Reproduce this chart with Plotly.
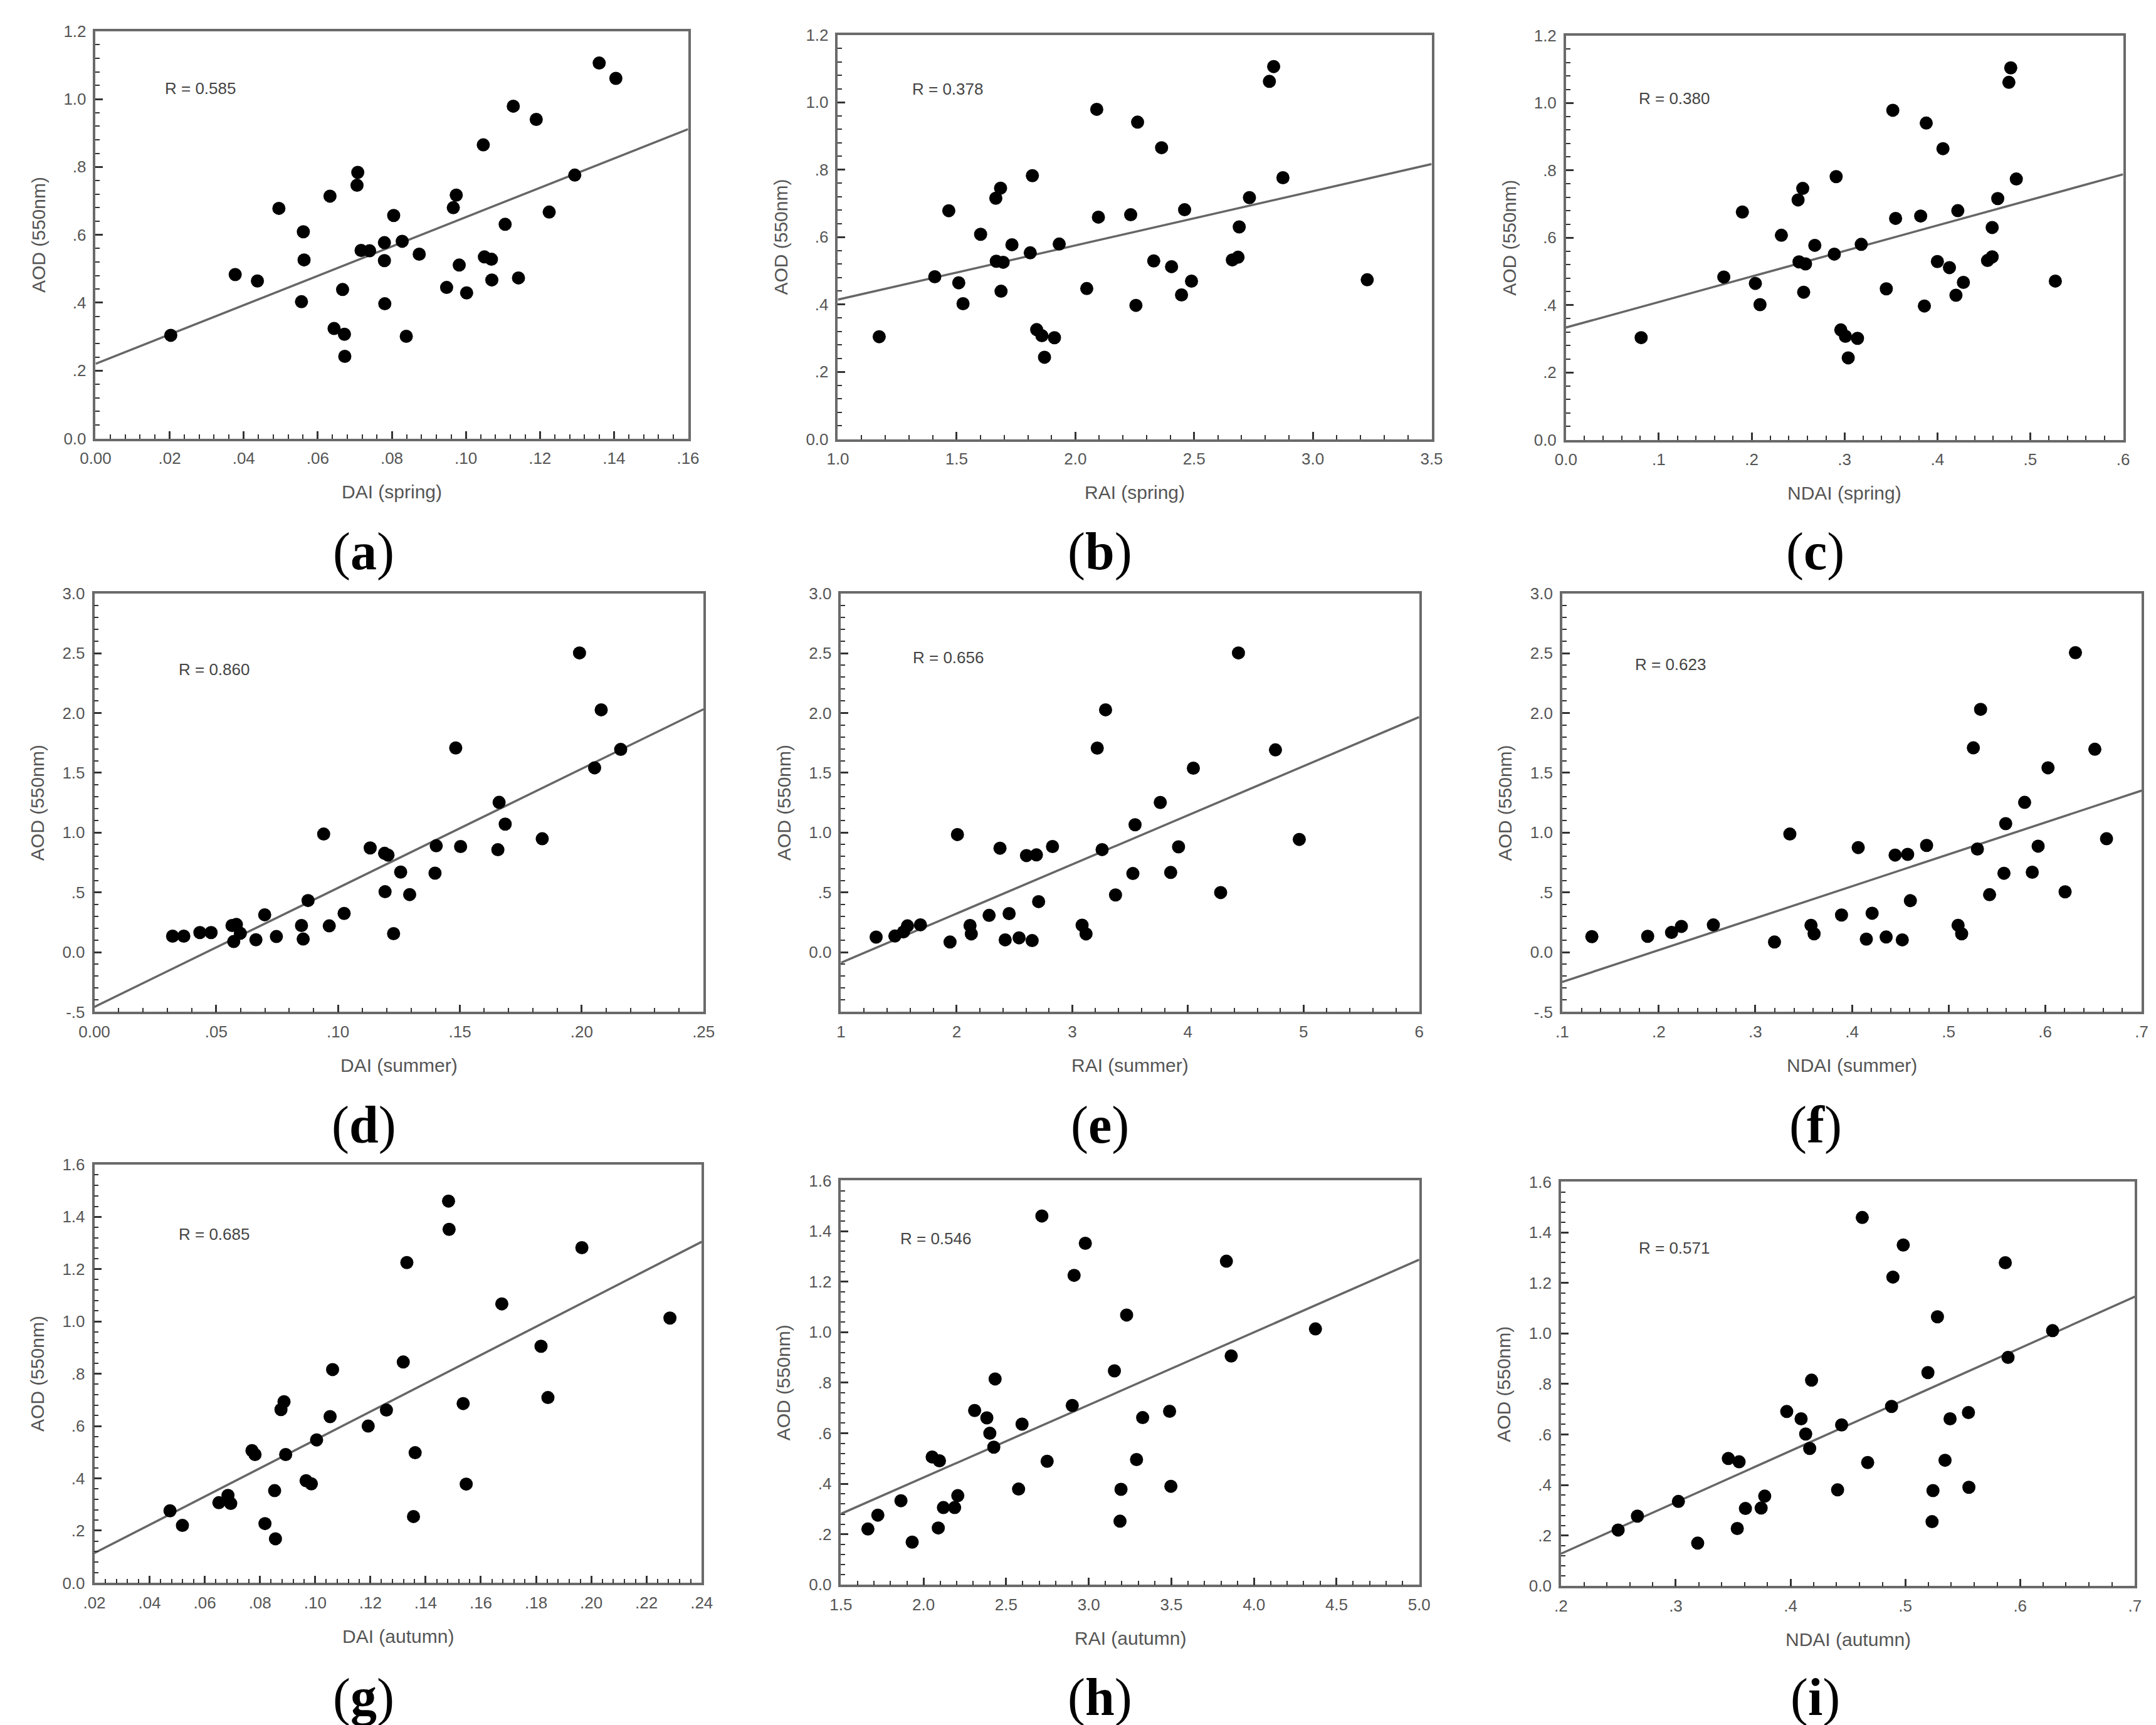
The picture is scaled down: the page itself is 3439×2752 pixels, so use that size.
import plotly.graph_objects as go

W, H = 3439, 2752

# ---------------- data ----------------
# spring
dai_spring = [0.0203, 0.0377, 0.0437, 0.0495, 0.0556, 0.0561, 0.0563, 0.0633, 0.0644, 0.0667,
              0.0672, 0.0673, 0.0706, 0.0708, 0.0717, 0.0740, 0.0780, 0.0780, 0.0781, 0.0805,
              0.0828, 0.0839, 0.0874, 0.0948, 0.0966, 0.0974, 0.0982, 0.1002, 0.1047, 0.1050,
              0.1069, 0.1070, 0.1106, 0.1128, 0.1142, 0.1190, 0.1225, 0.1294, 0.1360, 0.1405]
aod_dai_spring = [0.304, 0.483, 0.464, 0.678, 0.403, 0.609, 0.526, 0.714, 0.324, 0.439,
                  0.307, 0.242, 0.746, 0.784, 0.554, 0.553, 0.577, 0.524, 0.397, 0.657,
                  0.581, 0.301, 0.543, 0.445, 0.680, 0.717, 0.511, 0.429, 0.865, 0.535,
                  0.528, 0.467, 0.631, 0.979, 0.473, 0.940, 0.667, 0.776, 1.106, 1.061]

rai_spring = [1.174, 1.408, 1.467, 1.509, 1.527, 1.601, 1.665, 1.667, 1.685, 1.687,
              1.696, 1.733, 1.810, 1.819, 1.837, 1.859, 1.870, 1.912, 1.932, 2.048,
              2.090, 2.097, 2.233, 2.255, 2.262, 2.330, 2.363, 2.405, 2.447, 2.460,
              2.489, 2.661, 2.685, 2.690, 2.733, 2.817, 2.835, 2.874, 3.229]
aod_rai_spring = [0.304, 0.482, 0.678, 0.464, 0.402, 0.608, 0.715, 0.528, 0.745, 0.439,
                  0.525, 0.577, 0.553, 0.782, 0.325, 0.307, 0.243, 0.301, 0.579, 0.447,
                  0.979, 0.659, 0.666, 0.397, 0.941, 0.529, 0.865, 0.512, 0.428, 0.681,
                  0.469, 0.532, 0.540, 0.630, 0.717, 1.062, 1.106, 0.776, 0.473]

ndai_spring = [0.081, 0.170, 0.190, 0.204, 0.209, 0.232, 0.250, 0.251, 0.255, 0.256,
               0.258, 0.268, 0.289, 0.291, 0.296, 0.301, 0.304, 0.314, 0.318, 0.345,
               0.352, 0.355, 0.382, 0.386, 0.388, 0.400, 0.406, 0.413, 0.420, 0.422,
               0.428, 0.454, 0.459, 0.459, 0.465, 0.477, 0.479, 0.485, 0.527]
aod_ndai_spring = [0.303, 0.483, 0.676, 0.464, 0.401, 0.607, 0.712, 0.528, 0.746, 0.438,
                   0.522, 0.577, 0.551, 0.781, 0.326, 0.307, 0.243, 0.301, 0.580, 0.448,
                   0.978, 0.657, 0.664, 0.397, 0.940, 0.529, 0.864, 0.511, 0.429, 0.680,
                   0.467, 0.532, 0.543, 0.630, 0.716, 1.061, 1.104, 0.774, 0.471]

# summer
dai_summer = [0.0321, 0.0367, 0.0433, 0.0479, 0.0565, 0.0583, 0.0572, 0.0599, 0.0663, 0.0699,
              0.0747, 0.0850, 0.0857, 0.0877, 0.0941, 0.0964, 0.1025, 0.1132, 0.1191, 0.1205,
              0.1193, 0.1228, 0.1257, 0.1294, 0.1398, 0.1403, 0.1483, 0.1503, 0.1656, 0.1661,
              0.1686, 0.1838, 0.1991, 0.2053, 0.2080, 0.2160]
aod_dai_summer = [0.134, 0.134, 0.164, 0.164, 0.223, 0.232, 0.089, 0.158, 0.104, 0.313,
                  0.131, 0.223, 0.110, 0.432, 0.988, 0.220, 0.324, 0.872, 0.827, 0.812,
                  0.506, 0.155, 0.670, 0.482, 0.661, 0.890, 1.708, 0.884, 0.857, 1.253,
                  1.071, 0.949, 2.503, 1.542, 2.027, 1.696]

rai_summer = [1.304, 1.466, 1.541, 1.575, 1.687, 1.943, 2.007, 2.116, 2.127, 2.281,
              2.375, 2.420, 2.454, 2.540, 2.604, 2.653, 2.690, 2.709, 2.829, 3.085,
              3.119, 3.216, 3.258, 3.288, 3.374, 3.524, 3.543, 3.761, 3.851, 3.919,
              4.047, 4.283, 4.437, 4.757, 4.963]
aod_rai_summer = [0.126, 0.135, 0.170, 0.220, 0.229, 0.085, 0.984, 0.223, 0.153, 0.308,
                  0.870, 0.103, 0.323, 0.120, 0.808, 0.097, 0.814, 0.423, 0.884, 0.226,
                  0.153, 1.707, 0.858, 2.027, 0.479, 0.658, 1.066, 1.252, 0.667, 0.881,
                  1.539, 0.499, 2.503, 1.692, 0.943]

ndai_summer = [0.1307, 0.1885, 0.2132, 0.2234, 0.2565, 0.3198, 0.3357, 0.3576, 0.3608, 0.3892,
               0.4065, 0.4149, 0.4209, 0.4354, 0.4447, 0.4521, 0.4577, 0.4605, 0.4773, 0.5099,
               0.5136, 0.5257, 0.5299, 0.5332, 0.5425, 0.5574, 0.5592, 0.5788, 0.5867, 0.5928,
               0.6030, 0.6207, 0.6314, 0.6515, 0.6636]
aod_ndai_summer = [0.130, 0.133, 0.165, 0.216, 0.228, 0.085, 0.988, 0.225, 0.154, 0.311,
                   0.875, 0.109, 0.326, 0.127, 0.812, 0.103, 0.818, 0.431, 0.893, 0.225,
                   0.154, 1.709, 0.863, 2.031, 0.481, 0.660, 1.075, 1.253, 0.669, 0.887,
                   1.542, 0.505, 2.505, 1.697, 0.949]

# autumn
dai_autumn = [0.0474, 0.0519, 0.0651, 0.0684, 0.0694, 0.0771, 0.0782, 0.0818, 0.0853, 0.0856,
              0.0876, 0.0887, 0.0893, 0.0967, 0.0986, 0.1005, 0.1054, 0.1063, 0.1192, 0.1258,
              0.1319, 0.1332, 0.1356, 0.1362, 0.1483, 0.1485, 0.1536, 0.1547, 0.1676, 0.1818,
              0.1843, 0.1966, 0.2285]
aod_dai_autumn = [0.276, 0.220, 0.307, 0.335, 0.304, 0.506, 0.491, 0.227, 0.353, 0.169,
                  0.663, 0.693, 0.491, 0.391, 0.379, 0.547, 0.636, 0.816, 0.600, 0.661,
                  0.845, 1.225, 0.254, 0.498, 1.460, 1.352, 0.686, 0.378, 1.067, 0.905,
                  0.709, 1.282, 1.013]

rai_autumn = [1.663, 1.723, 1.863, 1.931, 2.052, 2.089, 2.096, 2.120, 2.188, 2.207,
              2.309, 2.383, 2.401, 2.425, 2.433, 2.575, 2.596, 2.716, 2.748, 2.900,
              2.911, 2.979, 3.155, 3.189, 3.195, 3.229, 3.289, 3.326, 3.489, 3.497,
              3.833, 3.862, 4.372]
aod_rai_autumn = [0.221, 0.276, 0.333, 0.169, 0.506, 0.225, 0.491, 0.306, 0.306, 0.353,
                  0.690, 0.661, 0.600, 0.545, 0.815, 0.379, 0.636, 1.460, 0.489, 0.710,
                  1.225, 1.352, 0.847, 0.252, 0.378, 1.068, 0.496, 0.662, 0.687, 0.390,
                  1.281, 0.906, 1.013]

ndai_autumn = [0.2498, 0.2666, 0.3023, 0.3191, 0.3458, 0.3536, 0.3552, 0.3607, 0.3744, 0.3775,
               0.3967, 0.4092, 0.4132, 0.4167, 0.4183, 0.4410, 0.4445, 0.4625, 0.4672, 0.4880,
               0.4892, 0.4982, 0.5197, 0.5233, 0.5241, 0.5280, 0.5346, 0.5390, 0.5550, 0.5554,
               0.5871, 0.5895, 0.6283]
aod_ndai_autumn = [0.222, 0.277, 0.335, 0.170, 0.505, 0.228, 0.492, 0.307, 0.309, 0.356,
                   0.691, 0.662, 0.602, 0.545, 0.815, 0.381, 0.638, 1.459, 0.489, 0.711,
                   1.223, 1.350, 0.845, 0.255, 0.378, 1.066, 0.498, 0.662, 0.687, 0.391,
                   1.280, 0.905, 1.011]

# regression lines (intercept, slope)
fit_intercept = [0.220, 0.253, 0.333, -0.458, -0.499, -0.516, 0.006, -0.150, -0.279]
fit_slope = [4.32, 0.161, 0.758, 9.96, 0.411, 2.668, 5.41, 0.2874, 2.035]
r_labels = ["R = 0.585", "R = 0.378", "R = 0.380",
            "R = 0.860", "R = 0.656", "R = 0.623",
            "R = 0.685", "R = 0.546", "R = 0.571"]
x_titles = ["DAI (spring)", "RAI (spring)", "NDAI (spring)",
            "DAI (summer)", "RAI (summer)", "NDAI (summer)",
            "DAI (autumn)", "RAI (autumn)", "NDAI (autumn)"]
panel_letters = ["a", "b", "c", "d", "e", "f", "g", "h", "i"]

# tick values / labels
xt_dai_spring = [0, .02, .04, .06, .08, .10, .12, .14, .16]
xl_dai_spring = ["0.00", ".02", ".04", ".06", ".08", ".10", ".12", ".14", ".16"]
xt_rai_spring = [1.0, 1.5, 2.0, 2.5, 3.0, 3.5]
xl_rai_spring = ["1.0", "1.5", "2.0", "2.5", "3.0", "3.5"]
xt_ndai_spring = [0, .1, .2, .3, .4, .5, .6]
xl_ndai_spring = ["0.0", ".1", ".2", ".3", ".4", ".5", ".6"]
xt_dai_summer = [0, .05, .10, .15, .20, .25]
xl_dai_summer = ["0.00", ".05", ".10", ".15", ".20", ".25"]
xt_rai_summer = [1, 2, 3, 4, 5, 6]
xl_rai_summer = ["1", "2", "3", "4", "5", "6"]
xt_ndai_summer = [.1, .2, .3, .4, .5, .6, .7]
xl_ndai_summer = [".1", ".2", ".3", ".4", ".5", ".6", ".7"]
xt_dai_autumn = [.02, .04, .06, .08, .10, .12, .14, .16, .18, .20, .22, .24]
xl_dai_autumn = [".02", ".04", ".06", ".08", ".10", ".12", ".14", ".16", ".18", ".20", ".22", ".24"]
xt_rai_autumn = [1.5, 2.0, 2.5, 3.0, 3.5, 4.0, 4.5, 5.0]
xl_rai_autumn = ["1.5", "2.0", "2.5", "3.0", "3.5", "4.0", "4.5", "5.0"]
xt_ndai_autumn = [.2, .3, .4, .5, .6, .7]
xl_ndai_autumn = [".2", ".3", ".4", ".5", ".6", ".7"]

yt_spring = [0, .2, .4, .6, .8, 1.0, 1.2]
yl_spring = ["0.0", ".2", ".4", ".6", ".8", "1.0", "1.2"]
yt_summer = [-.5, 0, .5, 1.0, 1.5, 2.0, 2.5, 3.0]
yl_summer = ["-.5", "0.0", ".5", "1.0", "1.5", "2.0", "2.5", "3.0"]
yl_summer_e = ["", "0.0", ".5", "1.0", "1.5", "2.0", "2.5", "3.0"]
yt_autumn = [0, .2, .4, .6, .8, 1.0, 1.2, 1.4, 1.6]
yl_autumn = ["0.0", ".2", ".4", ".6", ".8", "1.0", "1.2", "1.4", "1.6"]

# ---------------- panel layout ----------------
# (x values, y values, x ticks, x labels, y ticks, y labels, box in px: left, top, right, bottom, R pos)
panels = [
    (dai_spring, aod_dai_spring, xt_dai_spring, xl_dai_spring, yt_spring, yl_spring, (121, 27, 1078, 684), (0.115, 0.86)),
    (rai_spring, aod_rai_spring, xt_rai_spring, xl_rai_spring, yt_spring, yl_spring, (1320, 33, 2279, 685), (0.123, 0.866)),
    (ndai_spring, aod_ndai_spring, xt_ndai_spring, xl_ndai_spring, yt_spring, yl_spring, (2496, 34, 3396, 686), (0.128, 0.845)),
    (dai_summer, aod_dai_summer, xt_dai_summer, xl_dai_summer, yt_summer, yl_summer, (119, 934, 1103, 1609), (0.136, 0.819)),
    (rai_summer, aod_rai_summer, xt_rai_summer, xl_rai_summer, yt_summer, yl_summer_e, (1325, 934, 2259, 1609), (0.122, 0.847)),
    (ndai_summer, aod_ndai_summer, xt_ndai_summer, xl_ndai_summer, yt_summer, yl_summer, (2490, 934, 3426, 1609), (0.123, 0.831)),
    (dai_autumn, aod_dai_autumn, xt_dai_autumn, xl_dai_autumn, yt_autumn, yl_autumn, (119, 1855, 1100, 2530), (0.137, 0.833)),
    (rai_autumn, aod_rai_autumn, xt_rai_autumn, xl_rai_autumn, yt_autumn, yl_autumn, (1325, 1881, 2259, 2533), (0.10, 0.856)),
    (ndai_autumn, aod_ndai_autumn, xt_ndai_autumn, xl_ndai_autumn, yt_autumn, yl_autumn, (2488, 1883, 3415, 2535), (0.133, 0.837)),
]
label_x = [554, 1743, 2899]
label_y = [866, 1792, 2715]

SANS = "Liberation Sans, Arial, sans-serif"
SERIF = "Liberation Serif, Times New Roman, serif"
TXT = "#555555"
LINE = "#6a6a6a"

fig = go.Figure()
layout = dict(width=W, height=H, margin=dict(l=0, r=0, t=0, b=0),
              paper_bgcolor="white", plot_bgcolor="white", showlegend=False)
annotations = []

for k, (xs, ys, xt, xl, yt, yl, box, rpos) in enumerate(panels):
    n = "" if k == 0 else str(k + 1)
    xa, ya = "x" + n, "y" + n
    left, top, right, bottom = box
    xr = [xt[0], xt[-1]]
    yr = [yt[0], yt[-1]]
    xmaj = xt[1] - xt[0]
    ymaj = yt[1] - yt[0]

    # regression line across the full x range
    fig.add_trace(go.Scatter(x=xr, y=[fit_intercept[k] + fit_slope[k] * v for v in xr],
                             mode="lines", line=dict(color="#666666", width=3.5),
                             xaxis=xa, yaxis=ya, hoverinfo="skip"))
    fig.add_trace(go.Scatter(x=xs, y=ys, mode="markers",
                             marker=dict(color="black", size=21, line=dict(width=0)),
                             xaxis=xa, yaxis=ya))

    common = dict(showgrid=False, zeroline=False, showline=True, linecolor=LINE,
                  linewidth=3.5, mirror=True, ticks="inside", ticklen=12, tickwidth=2.5,
                  tickcolor="#333333", tickfont=dict(family=SANS, size=26, color=TXT),
                  ticklabelstandoff=6, tickmode="array")
    layout["xaxis" + n] = dict(common, domain=[left / W, right / W], range=xr,
                               tickvals=xt, ticktext=xl, anchor=ya,
                               minor=dict(ticks="inside", ticklen=7, tickwidth=2,
                                          tickcolor="#333333", dtick=xmaj / 5, tick0=xt[0]))
    layout["yaxis" + n] = dict(common, domain=[1 - bottom / H, 1 - top / H], range=yr,
                               tickvals=yt, ticktext=yl, anchor=xa,
                               minor=dict(ticks="inside", ticklen=7, tickwidth=2,
                                          tickcolor="#333333", dtick=ymaj / 5, tick0=yt[0]))

    # axis titles
    annotations.append(dict(text=x_titles[k], xref=xa + " domain", yref=ya + " domain",
                            x=0.5, y=0, yshift=-85, xanchor="center", yanchor="middle",
                            showarrow=False, font=dict(family=SANS, size=30, color=TXT)))
    annotations.append(dict(text="AOD (550nm)", xref=xa + " domain", yref=ya + " domain",
                            x=0, y=0.5, xshift=-91, xanchor="center", yanchor="middle",
                            textangle=-90, showarrow=False,
                            font=dict(family=SANS, size=30, color=TXT)))
    # correlation text
    annotations.append(dict(text=r_labels[k], xref=xa + " domain", yref=ya + " domain",
                            x=rpos[0], y=rpos[1], xanchor="left", yanchor="middle",
                            showarrow=False, font=dict(family=SANS, size=26, color="#444444")))
    # panel letter
    annotations.append(dict(text="(<b>%s</b>)" % panel_letters[k], xref="paper", yref="paper",
                            x=label_x[k % 3] / W, y=1 - label_y[k // 3] / H,
                            xanchor="center", yanchor="middle", showarrow=False,
                            font=dict(family=SERIF, size=84, color="black")))

layout["annotations"] = annotations
fig.update_layout(**layout)

fig.write_html("out.html")
